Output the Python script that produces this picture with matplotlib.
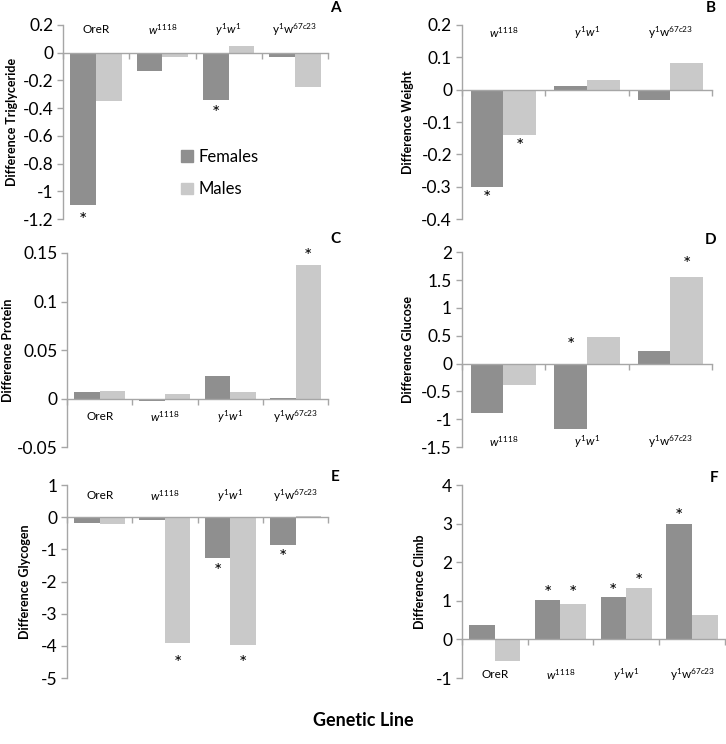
import matplotlib
matplotlib.use("Agg")
import matplotlib.pyplot as plt
from matplotlib.patches import Patch

plt.rcParams['font.family'] = ['Lato', 'DejaVu Sans']
plt.rcParams['mathtext.fontset'] = 'custom'
plt.rcParams['mathtext.rm'] = 'Lato'
plt.rcParams['mathtext.it'] = 'Lato:italic'
plt.rcParams['mathtext.bf'] = 'Lato:bold'

# genetic line labels
OREr = 'OreR'
W1118 = r'$\mathit{w}^{\mathit{1118}}$'
Y1W1 = r'$\mathit{y}^{\mathit{1}}\mathit{w}^{\mathit{1}}$'
Y1W67 = r'y$^{1}$w$^{67c23}$'

lines4 = [OREr, W1118, Y1W1, Y1W67]
lines3 = [W1118, Y1W1, Y1W67]

# values (Females, Males)
trig_f = [-1.10, -0.13, -0.34, -0.03]
trig_m = [-0.35, -0.03, 0.05, -0.25]
weight_f = [-0.30, 0.012, -0.033]
weight_m = [-0.14, 0.030, 0.083]
prot_f = [0.007, -0.002, 0.023, 0.001]
prot_m = [0.008, 0.005, 0.007, 0.138]
gluc_f = [-0.88, -1.18, 0.23]
gluc_m = [-0.38, 0.48, 1.56]
glyc_f = [-0.18, -0.10, -1.28, -0.87]
glyc_m = [-0.21, -3.92, -3.96, 0.05]
climb_f = [0.37, 1.02, 1.10, 3.00]
climb_m = [-0.55, 0.93, 1.33, 0.63]

# significance stars: (category, sex 0=F 1=M, y position)
trig_stars = [(0, 0, -1.21), (2, 0, -0.44)]
weight_stars = [(0, 0, -0.335), (0, 1, -0.175)]
prot_stars = [(3, 1, 0.146)]
gluc_stars = [(1, 0, 0.33), (2, 1, 1.78)]
glyc_stars = [(1, 1, -4.55), (2, 0, -1.7), (2, 1, -4.55), (3, 0, -1.25)]
climb_stars = [(1, 0, 1.2), (1, 1, 1.2), (2, 0, 1.25), (2, 1, 1.5), (3, 0, 3.18)]

FEM = '#8f8f8f'
MAL = '#c9c9c9'
SPINE = '#a6a6a6'

W, H = 726, 744
fig = plt.figure(figsize=(W / 100, H / 100), dpi=100)


def panel(rect, cats, fem, mal, ylim, yticks, ylabel, lab_x, lab_y, stars):
    ax = fig.add_axes(rect)
    n = len(cats)
    w = 0.39
    xs = list(range(n))
    ax.bar([x - w / 2 for x in xs], fem, width=w, color=FEM, zorder=2)
    ax.bar([x + w / 2 for x in xs], mal, width=w, color=MAL, zorder=2)
    ax.set_xlim(-0.5, n - 0.5)
    ax.set_ylim(*ylim)
    ax.set_yticks(yticks)
    ax.set_yticklabels(['0' if t == 0 else '%g' % t for t in yticks], fontsize=12.5)
    ax.set_xticks([i - 0.5 for i in range(n + 1)])
    ax.set_xticklabels([])
    for s in ['top', 'right']:
        ax.spines[s].set_visible(False)
    ax.spines['bottom'].set_position(('data', 0))
    ax.spines['bottom'].set_zorder(3)
    for s in ['left', 'bottom']:
        ax.spines[s].set_color(SPINE)
        ax.spines[s].set_linewidth(1.0)
    ax.tick_params(axis='both', direction='out', length=4, color=SPINE, width=1.0)
    ax.tick_params(axis='y', pad=3)
    ax.set_ylabel(ylabel, fontsize=9, fontweight='bold', va='center')
    ax.yaxis.set_label_coords(lab_x, 0.5)
    for i, c in enumerate(cats):
        ax.text(i, lab_y, c, ha='center', va='center', fontsize=8.5)
    for ci, sx, y in stars:
        x = ci - w / 2 if sx == 0 else ci + w / 2
        ax.text(x, y, '*', ha='center', va='center', fontsize=14)
    return ax


axA = panel([0.0868, 0.7056, 0.365, 0.2608], lines4, trig_f, trig_m, (-1.2, 0.2),
            [0.2, 0, -0.2, -0.4, -0.6, -0.8, -1, -1.2], 'Difference Triglyceride',
            -0.192, 0.165, trig_stars)
axA.legend(handles=[Patch(color=FEM, label='Females'), Patch(color=MAL, label='Males')],
           loc='upper left', bbox_to_anchor=(0.39, 0.44), frameon=False, fontsize=12,
           handlelength=0.7, handleheight=0.7, handletextpad=0.3, labelspacing=1.0)

panel([0.636, 0.7056, 0.345, 0.2608], lines3, weight_f, weight_m, (-0.4, 0.2),
      [0.2, 0.1, 0, -0.1, -0.2, -0.3, -0.4], 'Difference Weight',
      -0.216, 0.175, weight_stars)

panel([0.0923, 0.399, 0.3597, 0.261], lines4, prot_f, prot_m, (-0.05, 0.15),
      [0.15, 0.1, 0.05, 0, -0.05], 'Difference Protein',
      -0.226, -0.0185, prot_stars)

panel([0.636, 0.399, 0.345, 0.262], lines3, gluc_f, gluc_m, (-1.5, 2),
      [2, 1.5, 1, 0.5, 0, -0.5, -1, -1.5], 'Difference Glucose',
      -0.216, -1.40, gluc_stars)

panel([0.0923, 0.0887, 0.3597, 0.2594], lines4, glyc_f, glyc_m, (-5, 1),
      [1, 0, -1, -2, -3, -4, -5], 'Difference Glycogen',
      -0.161, 0.68, glyc_stars)

panel([0.636, 0.0887, 0.3626, 0.2594], lines4, climb_f, climb_m, (-1, 4),
      [4, 3, 2, 1, 0, -1], 'Difference Climb',
      -0.16, -0.92, climb_stars)

# panel letters, pixel positions of the reference
for letter, px, py in [('A', 335, 8), ('B', 711, 8), ('C', 335, 239),
                       ('D', 711, 240), ('E', 335, 477), ('F', 714, 478)]:
    fig.text(px / W, 1 - py / H, letter, ha='center', va='center',
             fontsize=11, fontweight='bold')

fig.text(0.5, 0.032, 'Genetic Line', ha='center', va='center', fontsize=13, fontweight='bold')

fig.savefig('out.png', dpi=100)
